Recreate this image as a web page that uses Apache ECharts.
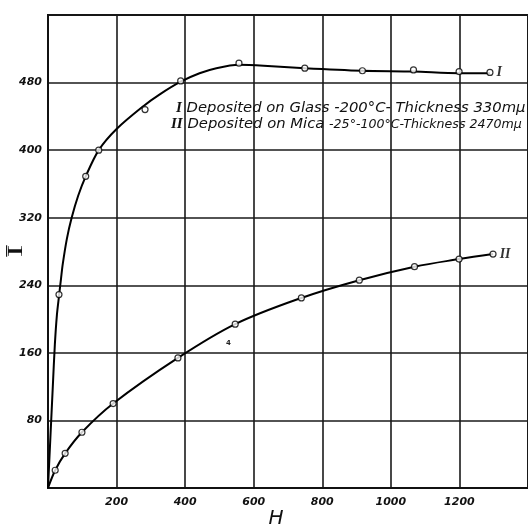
<!DOCTYPE html>
<html><head><meta charset="utf-8">
<script src="https://cdn.jsdelivr.net/npm/echarts@6/dist/echarts.min.js"></script>
<style>html,body{margin:0;padding:0;background:#fff}#c{width:528px;height:527px}</style>
</head><body><div id="c"></div>
<script>
// tick labels
const xTicks = [200, 400, 600, 800, 1000, 1200];
const yTicks = [80, 160, 240, 320, 400, 480];
// Curve I (drawn line)
const curveI_H = [0, 7, 14, 20, 26, 32, 38, 43, 55, 69, 88, 110, 148, 200, 278, 326, 387, 442, 491, 557, 629, 749, 917, 1066, 1199, 1289];
const curveI_I = [0, 60, 120, 170, 205, 227, 248, 265, 295, 320, 346, 369, 400, 425, 452, 466, 481, 491, 497, 501, 500, 497, 494, 493, 491, 491];
// Curve I measured points
const pointsI_H = [32, 110, 148, 283, 387, 557, 749, 917, 1066, 1199, 1289];
const pointsI_I = [229, 369, 400, 448, 482, 503, 497, 494, 495, 493, 492];
// Curve II (drawn line)
const curveII_H = [0, 21, 50, 99, 190, 379, 546, 739, 908, 1069, 1199, 1298];
const curveII_I = [0, 21, 41, 66, 100, 154, 194, 225, 246, 262, 271, 277];
// Curve II measured points
const pointsII_H = [21, 50, 99, 190, 379, 546, 739, 908, 1069, 1199, 1298];
const pointsII_I = [21, 41, 66, 100, 154, 194, 225, 246, 262, 271, 277];

const zip = (a, b) => a.map((v, i) => [v, b[i]]);
const labelFont = {fontFamily: 'DejaVu Sans', fontStyle: 'italic', fontWeight: 'bold', fontSize: 11, color: '#111'};
const numeralStyle = {fontFamily: 'Liberation Serif', fontStyle: 'italic', fontWeight: 'bold', fontSize: 15, fill: '#111'};

function pointData(hs, is, tag) {
  return zip(hs, is).map((p, i) => {
    if (i === hs.length - 1) {
      return {value: p, label: {show: true, position: 'right', distance: 3, formatter: tag,
        fontFamily: 'Liberation Serif', fontStyle: 'italic', fontWeight: 'bold', fontSize: 14, color: '#000'}};
    }
    return p;
  });
}

const chart = echarts.init(document.getElementById('c'));
chart.setOption({
  animation: false,
  backgroundColor: '#fff',
  grid: {left: 48, right: 0, top: 15, bottom: 39, outerBoundsMode: 'none', containLabel: false,
    show: true, borderColor: '#111', borderWidth: 2},
  xAxis: {
    type: 'value', min: 0, max: 1400, interval: 200,
    axisLine: {show: true, lineStyle: {color: '#111', width: 2}},
    axisTick: {show: false},
    splitLine: {show: true, lineStyle: {color: '#1a1a1a', width: 1.6}},
    axisLabel: Object.assign({margin: 9, formatter: v => xTicks.includes(v) ? String(v) : ''}, labelFont)
  },
  yAxis: {
    type: 'value', min: 0, max: 560, interval: 80,
    axisLine: {show: true, lineStyle: {color: '#111', width: 2}},
    axisTick: {show: false},
    splitLine: {show: true, lineStyle: {color: '#1a1a1a', width: 1.6}},
    axisLabel: Object.assign({margin: 6, formatter: v => yTicks.includes(v) ? String(v) : ''}, labelFont)
  },
  graphic: [
    {type: 'text', x: 276, y: 519, style: {text: 'H', align: 'center', verticalAlign: 'middle',
      fontFamily: 'DejaVu Sans', fontStyle: 'italic', fontSize: 20, fill: '#111'}},
    {type: 'text', x: 16, y: 251, rotation: Math.PI / 2, scaleX: 1.7, style: {text: 'Ī', align: 'center', verticalAlign: 'middle',
      fontFamily: 'Liberation Serif', fontSize: 22, fill: '#111'}},
    {type: 'text', left: 176, top: 101, style: {
      text: '{n|I} Deposited on Glass -200°C- Thickness 330mμ',
      fontFamily: 'DejaVu Sans', fontStyle: 'italic', fontSize: 14.8, fill: '#111',
      rich: {n: numeralStyle}
    }},
    {type: 'text', left: 171, top: 117, style: {
      text: '{n|II}{h| Deposited on Mica }{t|-25°-100°C-Thickness 2470mμ}',
      fontFamily: 'DejaVu Sans', fontStyle: 'italic', fontSize: 14.8, fill: '#111',
      rich: {n: numeralStyle,
        h: {fontFamily: 'DejaVu Sans', fontStyle: 'italic', fontSize: 14.8, fill: '#111'},
        t: {fontFamily: 'DejaVu Sans', fontStyle: 'italic', fontSize: 12.6, fill: '#111'}}
    }},
    {type: 'text', left: 226, top: 340, style: {text: '4', fontFamily: 'DejaVu Sans', fontWeight: 'bold', fontSize: 7, fill: '#222'}}
  ],
  series: [
    {type: 'line', data: zip(curveI_H, curveI_I), smooth: 0.3, showSymbol: false,
      lineStyle: {color: '#000', width: 2}, z: 3, silent: true},
    {type: 'line', data: zip(curveII_H, curveII_I), smooth: 0.35, showSymbol: false,
      lineStyle: {color: '#000', width: 2}, z: 3, silent: true},
    {type: 'scatter', data: pointData(pointsI_H, pointsI_I, 'I'), symbol: 'circle', symbolSize: 6,
      itemStyle: {color: '#fff', borderColor: '#000', borderWidth: 1.2}, z: 4},
    {type: 'scatter', data: pointData(pointsII_H, pointsII_I, 'II'), symbol: 'circle', symbolSize: 6,
      itemStyle: {color: '#fff', borderColor: '#000', borderWidth: 1.2}, z: 4}
  ]
});
</script></body></html>
